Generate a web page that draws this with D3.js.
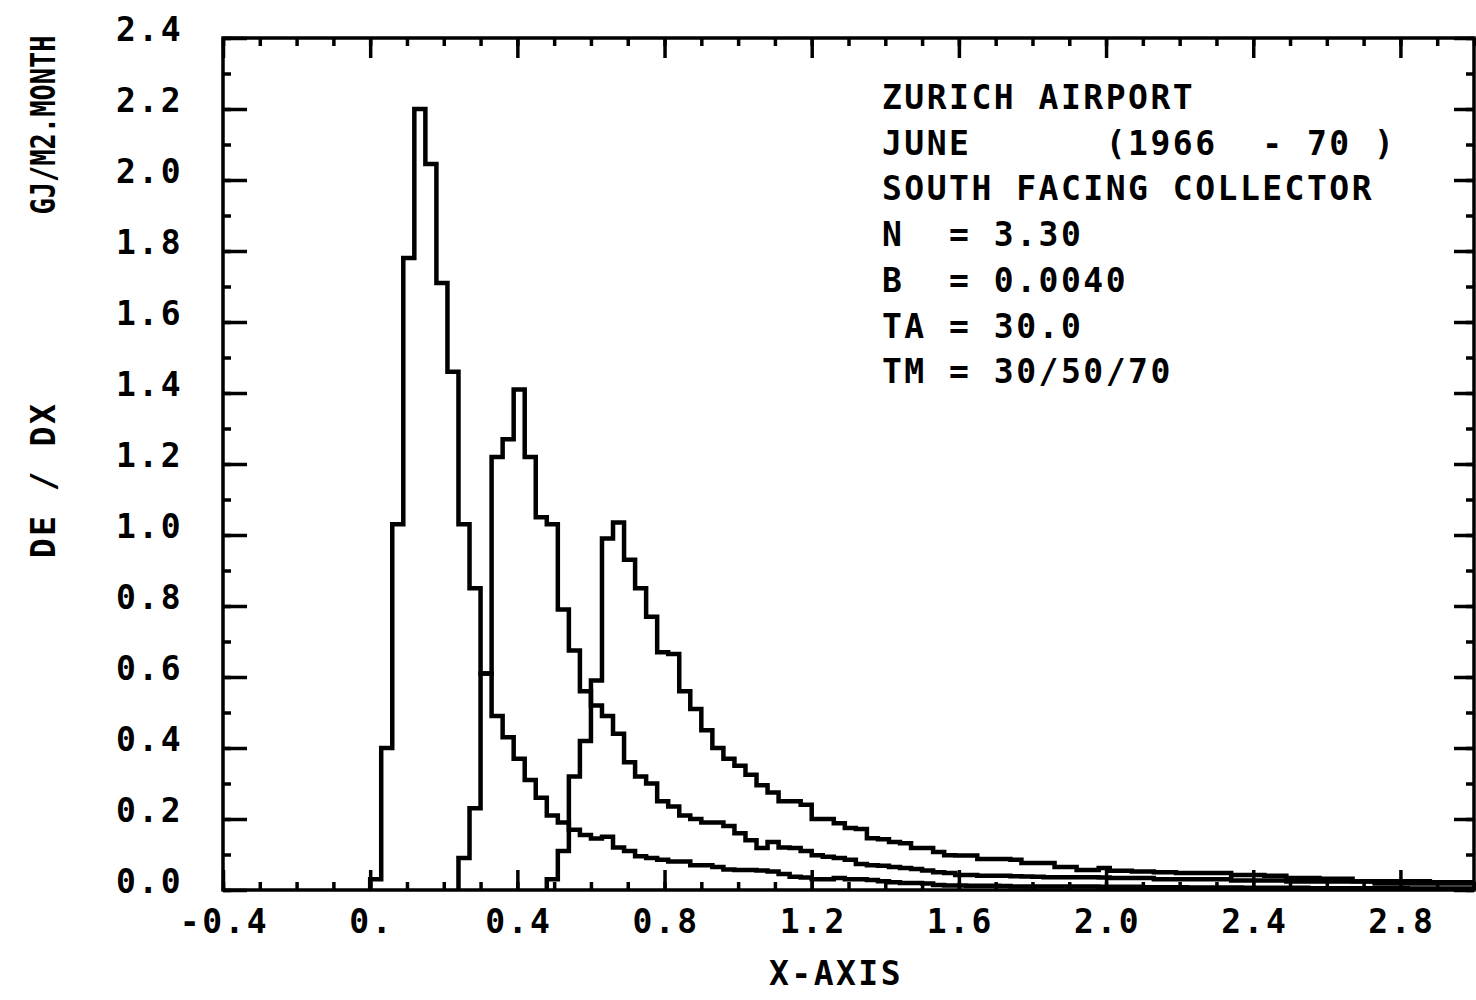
<!DOCTYPE html>
<html>
<head>
<meta charset="utf-8">
<script src="https://cdn.jsdelivr.net/npm/d3@7"></script>
<style>
  body { margin: 0; background: #fff; }
  text { font-family: "DejaVu Sans Mono", monospace; font-size: 33px; font-weight: bold; letter-spacing: 2.5px; fill: #000; white-space: pre; }
</style>
</head>
<body>
<div id="chart"></div>
<script>
"use strict";

/*
 * # Data
 * Histograms of dE/dX, one value per bin of width 0.03 starting at x = 0.
 */
var binStart = 0.0;
var binWidth = 0.03;

// TM = 30
var tm30 = [0.03, 0.40, 1.03, 1.78, 2.20, 2.045, 1.71, 1.46, 1.03, 0.85,
            0.61, 0.49, 0.43, 0.37, 0.31, 0.26, 0.21, 0.19, 0.17, 0.155,
            0.145, 0.15, 0.12, 0.11, 0.095, 0.09, 0.085, 0.08, 0.08, 0.07,
            0.07, 0.065, 0.058, 0.056, 0.056, 0.055, 0.052, 0.045, 0.037, 0.035,
            0.03, 0.03, 0.034, 0.03, 0.03, 0.028, 0.025, 0.022, 0.02, 0.02,
            0.018, 0.014, 0.013, 0.013, 0.012, 0.012, 0.012, 0.011, 0.01, 0.01,
            0.01, 0.01, 0.01, 0.01, 0.01, 0.01, 0.009, 0.009, 0.009, 0.009,
            0.008, 0.008, 0.008, 0.008, 0.007, 0.007, 0.007, 0.007, 0.007, 0.006,
            0.006, 0.006, 0.006, 0.006, 0.006, 0.005, 0.005, 0.005, 0.005, 0.005,
            0.005, 0.005, 0.005, 0.005, 0.004, 0.004, 0.004, 0.004, 0.004, 0.004];

// TM = 50
var tm50 = [0, 0, 0, 0, 0, 0, 0, 0, 0.09, 0.23,
            0.61, 1.22, 1.27, 1.41, 1.22, 1.05, 1.03, 0.79, 0.675, 0.56,
            0.52, 0.49, 0.44, 0.36, 0.32, 0.30, 0.25, 0.235, 0.21, 0.20,
            0.19, 0.19, 0.18, 0.16, 0.14, 0.118, 0.135, 0.12, 0.118, 0.11,
            0.098, 0.094, 0.09, 0.085, 0.073, 0.07, 0.068, 0.065, 0.062, 0.059,
            0.055, 0.05, 0.048, 0.042, 0.042, 0.04, 0.04, 0.04, 0.039, 0.038,
            0.037, 0.036, 0.036, 0.036, 0.036, 0.036, 0.035, 0.034, 0.034, 0.034,
            0.034, 0.03, 0.03, 0.03, 0.03, 0.03, 0.03, 0.03, 0.027, 0.027,
            0.027, 0.027, 0.027, 0.024, 0.024, 0.024, 0.024, 0.024, 0.024, 0.024,
            0.024, 0.018, 0.018, 0.018, 0.018, 0.018, 0.018, 0.018, 0.018, 0.018];

// TM = 70
var tm70 = [0, 0, 0, 0, 0, 0, 0, 0, 0, 0,
            0, 0, 0, 0, 0, 0, 0.03, 0.11, 0.32, 0.42,
            0.59, 0.99, 1.035, 0.93, 0.85, 0.77, 0.67, 0.665, 0.56, 0.51,
            0.45, 0.40, 0.37, 0.35, 0.325, 0.295, 0.275, 0.25, 0.25, 0.24,
            0.20, 0.20, 0.188, 0.175, 0.172, 0.146, 0.143, 0.135, 0.132, 0.118,
            0.118, 0.107, 0.098, 0.097, 0.097, 0.087, 0.087, 0.087, 0.085, 0.076,
            0.076, 0.076, 0.065, 0.065, 0.056, 0.056, 0.062, 0.054, 0.054, 0.052,
            0.052, 0.05, 0.05, 0.048, 0.048, 0.048, 0.048, 0.048, 0.042, 0.042,
            0.042, 0.04, 0.04, 0.034, 0.034, 0.034, 0.032, 0.032, 0.032, 0.025,
            0.025, 0.025, 0.025, 0.025, 0.025, 0.025, 0.022, 0.022, 0.022, 0.022];

var xTickValues = [-0.4, 0.0, 0.4, 0.8, 1.2, 1.6, 2.0, 2.4, 2.8];
var xTickLabels = ["-0.4", "0.", "0.4", "0.8", "1.2", "1.6", "2.0", "2.4", "2.8"];
var yTickValues = [0.0, 0.2, 0.4, 0.6, 0.8, 1.0, 1.2, 1.4, 1.6, 1.8, 2.0, 2.2, 2.4];
var yTickLabels = ["0.0", "0.2", "0.4", "0.6", "0.8", "1.0", "1.2", "1.4", "1.6", "1.8", "2.0", "2.2", "2.4"];

var infoLines = ["ZURICH AIRPORT",
                 "JUNE      (1966  - 70 )",
                 "SOUTH FACING COLLECTOR",
                 "N  = 3.30",
                 "B  = 0.0040",
                 "TA = 30.0",
                 "TM = 30/50/70"];

var xLabel = "X-AXIS";
var yLabelLeft = "DE / DX";
var yLabelRight = "GJ/M2.MONTH";

/*
 * # Setup
 */
var plotLeft = 223, plotRight = 1474, plotTop = 38, plotBottom = 890;

var svg = d3.select("#chart")
            .append("svg")
            .attr("width", 1476)
            .attr("height", 1000);

svg.append("rect")
   .attr("width", 1476)
   .attr("height", 1000)
   .attr("fill", "#fff");

/*
 * # Scales
 */
var x = d3.scaleLinear().domain([-0.4, 3.0]).range([plotLeft, plotRight]);
var y = d3.scaleLinear().domain([0, 2.4]).range([plotBottom, plotTop]);

var xMinor = d3.range(-4, 31).map(function(i) { return i / 10; });
var yMinor = d3.range(0, 25).map(function(i) { return i / 10; });

/*
 * # Axes (ticks point into the frame)
 */
function styleAxis(g) {
  g.select(".domain").remove();
  g.selectAll(".tick line").attr("stroke", "#000").attr("stroke-width", 3.5);
  g.selectAll(".tick text").attr("fill", "#000");
  g.attr("font-family", null).attr("font-size", null);
}

// minor ticks
svg.append("g").attr("transform", "translate(0," + plotBottom + ")")
   .call(d3.axisBottom(x).tickValues(xMinor).tickSize(-8).tickFormat(""))
   .call(styleAxis);
svg.append("g").attr("transform", "translate(0," + plotTop + ")")
   .call(d3.axisTop(x).tickValues(xMinor).tickSize(-8).tickFormat(""))
   .call(styleAxis);
svg.append("g").attr("transform", "translate(" + plotLeft + ",0)")
   .call(d3.axisLeft(y).tickValues(yMinor).tickSize(-8).tickFormat(""))
   .call(styleAxis);
svg.append("g").attr("transform", "translate(" + plotRight + ",0)")
   .call(d3.axisRight(y).tickValues(yMinor).tickSize(-8).tickFormat(""))
   .call(styleAxis);

// major ticks with labels
var xAxis = svg.append("g").attr("transform", "translate(0," + plotBottom + ")")
   .call(d3.axisBottom(x).tickValues(xTickValues).tickSizeInner(-20).tickSizeOuter(0).tickPadding(20)
           .tickFormat(function(d, i) { return xTickLabels[i]; }))
   .call(styleAxis);
xAxis.selectAll(".tick text").attr("dy", "0.71em").attr("dx", 1);

svg.append("g").attr("transform", "translate(0," + plotTop + ")")
   .call(d3.axisTop(x).tickValues(xTickValues).tickSize(-20).tickFormat(""))
   .call(styleAxis);

var yAxis = svg.append("g").attr("transform", "translate(" + plotLeft + ",0)")
   .call(d3.axisLeft(y).tickValues(yTickValues).tickSizeInner(-24).tickSizeOuter(0).tickPadding(40)
           .tickFormat(function(d, i) { return yTickLabels[i]; }))
   .call(styleAxis);
yAxis.selectAll(".tick text").attr("dy", "0.32em").attr("y", -8);

svg.append("g").attr("transform", "translate(" + plotRight + ",0)")
   .call(d3.axisRight(y).tickValues(yTickValues).tickSize(-20).tickFormat(""))
   .call(styleAxis);

// frame
svg.append("rect")
   .attr("x", plotLeft).attr("y", plotTop)
   .attr("width", plotRight - plotLeft).attr("height", plotBottom - plotTop)
   .attr("fill", "none").attr("stroke", "#000").attr("stroke-width", 3.5);

/*
 * # Histograms
 */
svg.append("clipPath").attr("id", "plot-clip")
   .append("rect").attr("x", plotLeft).attr("y", plotTop)
   .attr("width", plotRight - plotLeft).attr("height", plotBottom - plotTop);

var stepLine = d3.line()
                 .x(function(d) { return x(d[0]); })
                 .y(function(d) { return y(d[1]); })
                 .curve(d3.curveStepAfter);

function histPoints(values) {
  var first = values.findIndex(function(v) { return v > 0; });
  var pts = [[binStart + first * binWidth, 0]];
  for (var i = first; i < values.length; i++) {
    pts.push([binStart + i * binWidth, values[i]]);
  }
  pts.push([binStart + values.length * binWidth, values[values.length - 1]]);
  return pts;
}

svg.append("g")
   .attr("clip-path", "url(#plot-clip)")
   .selectAll("path")
   .data([tm30, tm50, tm70])
   .enter()
   .append("path")
   .attr("d", function(d) { return stepLine(histPoints(d)); })
   .attr("fill", "none")
   .attr("stroke", "#000")
   .attr("stroke-width", 4.5)
   .attr("stroke-linejoin", "miter");

/*
 * # Labels
 */
svg.append("text")
   .attr("x", 836).attr("y", 985)
   .attr("text-anchor", "middle")
   .text(xLabel);

svg.append("text")
   .attr("transform", "translate(55,480) rotate(-90)")
   .attr("text-anchor", "middle")
   .text(yLabelLeft);

// the unit label is set narrower in the original
svg.append("text")
   .attr("transform", "translate(55,125) rotate(-90) scale(0.82,1)")
   .attr("text-anchor", "middle")
   .style("letter-spacing", "0px")
   .text(yLabelRight);

svg.append("g")
   .selectAll("text")
   .data(infoLines)
   .enter()
   .append("text")
   .attr("x", 882)
   .attr("y", function(d, i) { return 109 + i * 45.7; })
   .text(function(d) { return d; });
</script>
</body>
</html>
